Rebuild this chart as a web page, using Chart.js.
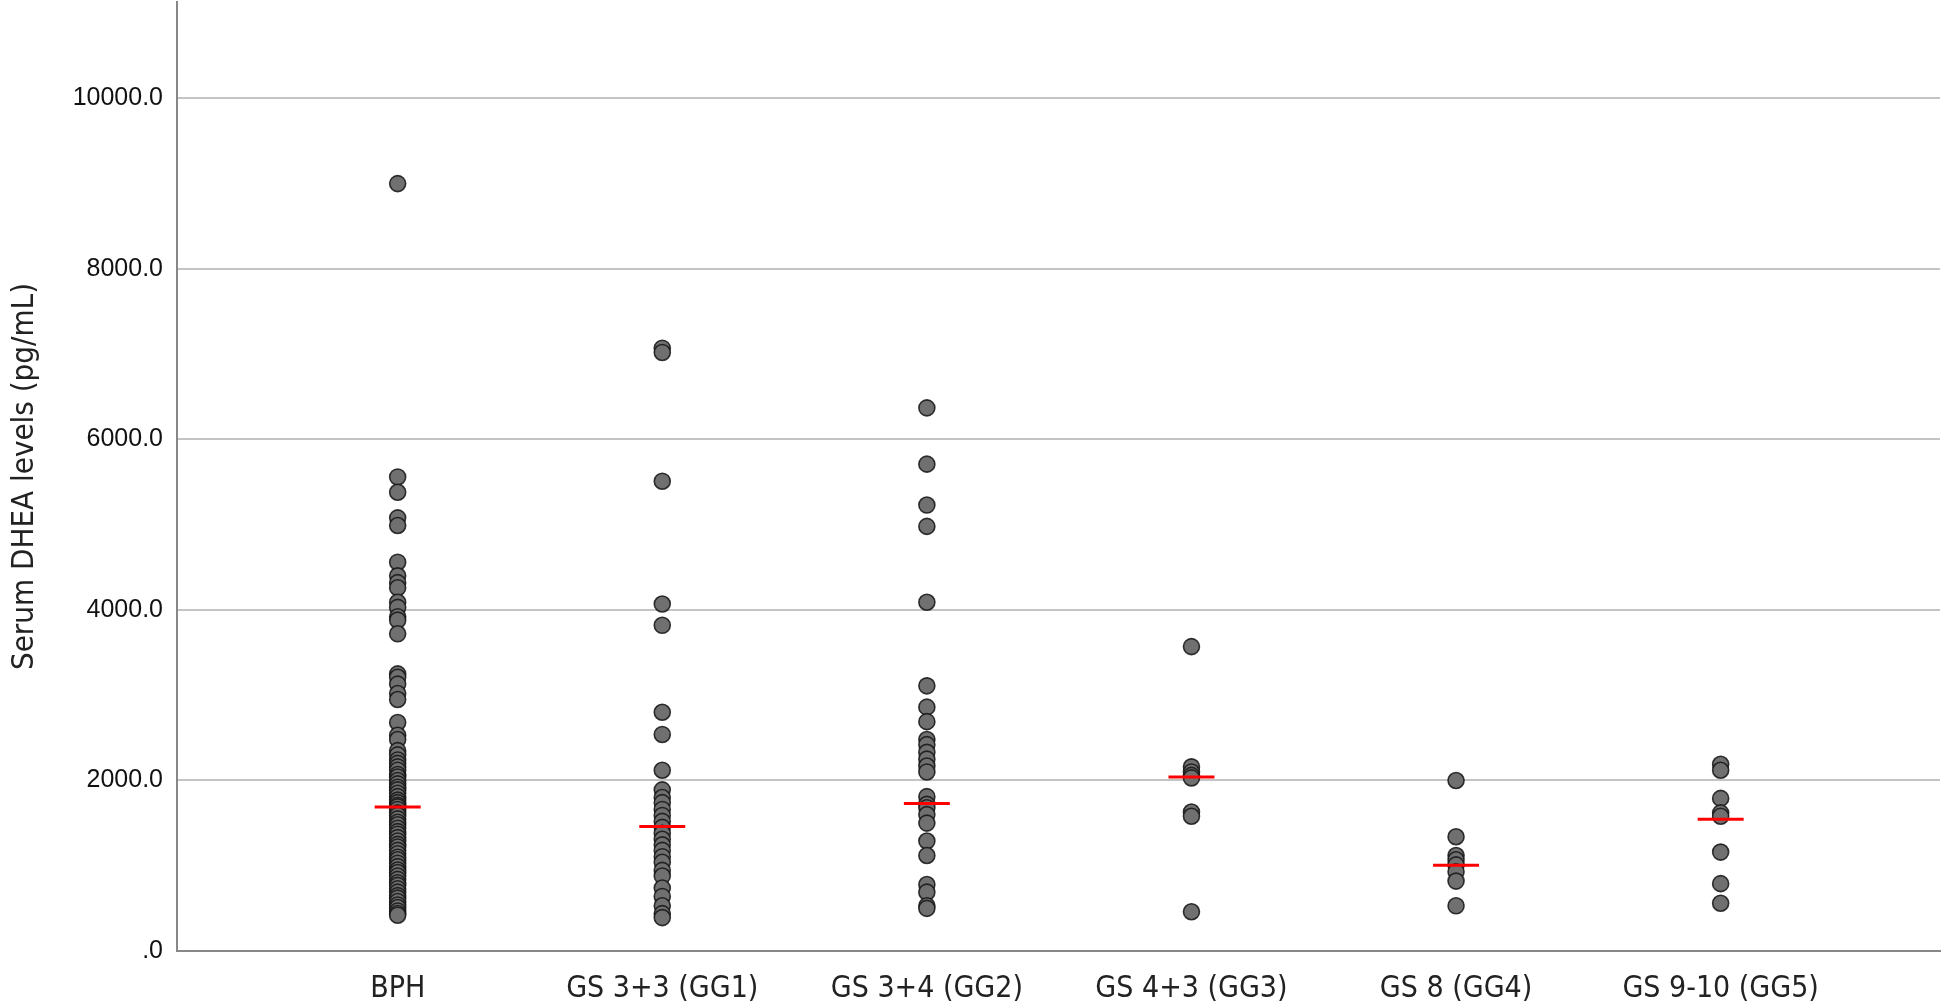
<html>
<head>
<script src="https://cdn.jsdelivr.net/npm/chart.js@4.4.1/dist/chart.umd.min.js"></script>
<style>
  body { margin: 0; background: #fff; }
  #wrap { width: 1944px; height: 1007px; }
</style>
</head>
<body>
<div id="wrap"><canvas id="dhea" width="1944" height="1007"></canvas></div>
<script>
  // groups along the x axis
  var groups = ["BPH", "GS 3+3 (GG1)", "GS 3+4 (GG2)", "GS 4+3 (GG3)", "GS 8 (GG4)", "GS 9-10 (GG5)"];

  // serum DHEA (pg/mL), one list per group
  var bph = [9000, 5560, 5380, 5080, 4990, 4560, 4400, 4320, 4260, 4090, 4030, 3920, 3880, 3720,
    3250, 3210, 3130, 3020, 2950, 2680, 2530, 2480, 2350, 2300, 2240, 2200, 2160, 2120, 2070, 2040,
    2000, 1960, 1920, 1890, 1850, 1810, 1770, 1740, 1710, 1690, 1660, 1620, 1590, 1550, 1510, 1480,
    1440, 1400, 1370, 1330, 1290, 1250, 1220, 1180, 1140, 1100, 1070, 1030, 990, 950, 920, 880,
    840, 800, 770, 730, 690, 650, 620, 580, 540, 510, 470, 440, 420];
  var gg1 = [7070, 7020, 5510, 4070, 3820, 2800, 2540, 2120, 1890, 1800, 1740, 1660, 1590, 1520,
    1450, 1380, 1310, 1245, 1180, 1106, 1040, 945, 880, 738, 640, 530, 438, 392];
  var gg2 = [6370, 5710, 5230, 4980, 4090, 3110, 2860, 2690, 2480, 2420, 2330, 2250, 2170, 2100,
    1810, 1720, 1680, 1600, 1500, 1290, 1120, 780, 690, 530, 500];
  var gg3 = [3570, 2160, 2100, 2060, 2030, 1630, 1580, 460];
  var gg4 = [2000, 1340, 1120, 1070, 1010, 930, 820, 530];
  var gg5 = [2190, 2120, 1790, 1620, 1580, 1160, 790, 560];

  // red bars = group medians
  var medians = [1690, 1460, 1730, 2040, 1005, 1545];

  var yTicks = [0, 2000, 4000, 6000, 8000, 10000];

  var allGroups = [bph, gg1, gg2, gg3, gg4, gg5];
  var dots = [];
  allGroups.forEach(function (vals, i) {
    vals.forEach(function (v) { dots.push({ x: i, y: v }); });
  });
  var medianPts = medians.map(function (v, i) { return { x: i, y: v }; });

  var condensed = "'DejaVu Sans Condensed', 'Liberation Sans Narrow', 'DejaVu Sans', sans-serif";

  var ctx = document.getElementById('dhea').getContext('2d');
  var chart = new Chart(ctx, {
    type: 'scatter',
    data: {
      datasets: [
        {
          label: 'Median',
          data: medianPts,
          pointStyle: 'line',
          pointRadius: 23,
          borderColor: 'rgb(255,0,0)',
          borderWidth: 3,
          backgroundColor: 'rgb(255,0,0)'
        },
        {
          label: 'DHEA',
          data: dots,
          pointRadius: 8,
          borderWidth: 1.6,
          borderColor: 'rgba(20,20,20,0.85)',
          backgroundColor: 'rgb(112,112,112)'
        }
      ]
    },
    options: {
      responsive: false,
      animation: false,
      layout: { autoPadding: false, padding: { top: 2, right: 4, left: 4, bottom: 0 } },
      plugins: { legend: { display: false }, tooltip: { enabled: false } },
      scales: {
        x: {
          type: 'linear',
          min: -0.834,
          max: 5.829,
          afterBuildTicks: function (scale) {
            scale.ticks = groups.map(function (g, i) { return { value: i }; });
          },
          afterFit: function (scale) { scale.height = 56; },
          grid: { display: false, drawTicks: false },
          border: { display: true, color: 'rgb(135,135,135)', width: 2 },
          ticks: {
            padding: 20,
            maxRotation: 0,
            autoSkip: false,
            color: '#222',
            font: { family: condensed, size: 30 },
            callback: function (v) { return groups[v]; }
          }
        },
        y: {
          min: 0,
          max: 11130,
          afterBuildTicks: function (scale) {
            scale.ticks = yTicks.map(function (v) { return { value: v }; });
          },
          afterFit: function (scale) {
            scale.width = 173;
            scale.paddingTop = 0;
            scale.paddingBottom = 0;
          },
          grid: { color: 'rgb(196,196,196)', lineWidth: 2, drawTicks: false },
          border: { display: true, color: 'rgb(135,135,135)', width: 2 },
          ticks: {
            padding: 14,
            color: '#111',
            font: { family: "'Liberation Sans', Arial, sans-serif", size: 25 },
            callback: function (v) { return v === 0 ? '.0' : v.toFixed(1); }
          },
          title: {
            display: true,
            text: 'Serum DHEA levels (pg/mL)',
            color: '#222',
            padding: { top: 2, bottom: 0 },
            font: { family: condensed, size: 31 }
          }
        }
      }
    }
  });
</script>
</body>
</html>
